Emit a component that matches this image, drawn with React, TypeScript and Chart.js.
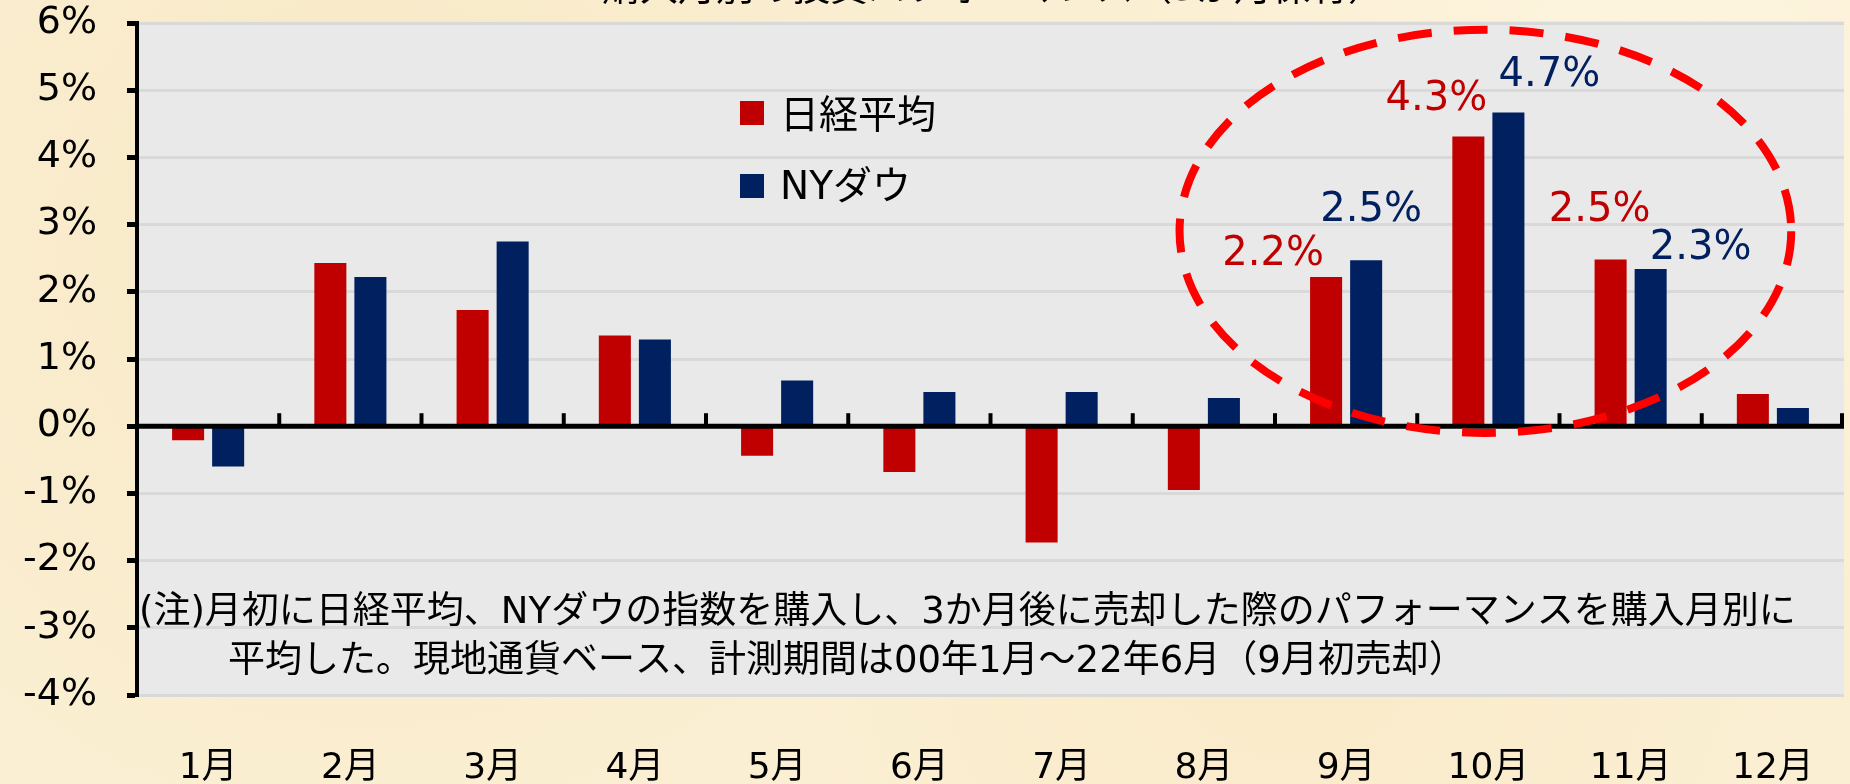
import React, { useEffect, useRef } from "react";
import { Chart, registerables } from "chart.js";

Chart.register(...registerables);

// ---- data ----
const months = ["1月", "2月", "3月", "4月", "5月", "6月", "7月", "8月", "9月", "10月", "11月", "12月"];
const seriesNames = ["日経平均", "NYダウ"];
const nikkei = [-0.21, 2.43, 1.73, 1.35, -0.44, -0.68, -1.73, -0.95, 2.22, 4.31, 2.48, 0.48];
const nydow = [-0.6, 2.22, 2.75, 1.29, 0.68, 0.51, 0.51, 0.42, 2.47, 4.67, 2.34, 0.27];
const yMin = -4;
const yMax = 6;
const yStep = 1;
const seriesColors = ["#C00000", "#002060"];
// highlighted value labels: [month index, series index]
const calloutPoints: [number, number][] = [
  [8, 0], [8, 1], [9, 0], [9, 1], [10, 0], [10, 1],
];
const titleText = "購入月別の投資パフォーマンス（3か月保有）";
const noteLines = [
  "(注)月初に日経平均、NYダウの指数を購入し、3か月後に売却した際のパフォーマンスを購入月別に",
  "平均した。現地通貨ベース、計測期間は00年1月～22年6月（9月初売却）",
];

const FONT = '"DejaVu Sans", "Noto Sans CJK JP", sans-serif';

// label offsets (pixels) relative to category centre / bar top
const calloutOffsets: [number, number][] = [
  [-73, -22], [25, -50], [-52, -37], [61, -37], [-31, -49], [70, -20],
];

const overlayPlugin = {
  id: "overlay",
  beforeDraw(chart: any) {
    const { ctx, chartArea: a } = chart;
    ctx.save();
    ctx.fillStyle = "#e9e9e9";
    ctx.fillRect(a.left, a.top - 2, a.right - a.left, a.bottom - a.top + 4);
    ctx.restore();
  },
  afterDatasetsDraw(chart: any) {
    const { ctx, chartArea: a } = chart;
    const xs = chart.scales.x;
    const ys = chart.scales.y;
    const y0 = ys.getPixelForValue(0);
    const catW = (a.right - a.left) / months.length;
    const unit = ys.getPixelForValue(0) - ys.getPixelForValue(1);
    ctx.save();
    // zero line
    ctx.strokeStyle = "#000";
    ctx.lineWidth = 5;
    ctx.beginPath();
    ctx.moveTo(a.left, y0);
    ctx.lineTo(a.right, y0);
    ctx.stroke();
    // category tick marks
    ctx.lineWidth = 4;
    for (let i = 1; i <= months.length; i++) {
      const x = i < months.length
        ? (xs.getPixelForValue(i - 1) + xs.getPixelForValue(i)) / 2
        : a.right - 2;
      ctx.beginPath();
      ctx.moveTo(x, y0);
      ctx.lineTo(x, y0 - 13);
      ctx.stroke();
    }
    // dashed ellipse
    ctx.strokeStyle = "#FF0000";
    ctx.lineWidth = 8;
    ctx.setLineDash([34, 22]);
    ctx.beginPath();
    ctx.ellipse(xs.getPixelForValue(9) - 3, ys.getPixelForValue(2.9), catW * 2.15, unit * 3, 0, 0, Math.PI * 2);
    ctx.stroke();
    ctx.setLineDash([]);
    // value labels
    ctx.font = `40px ${FONT}`;
    ctx.textAlign = "center";
    ctx.textBaseline = "middle";
    calloutPoints.forEach(([m, s], k) => {
      const v = chart.data.datasets[s].data[m];
      const [dx, dy] = calloutOffsets[k];
      ctx.fillStyle = seriesColors[s];
      ctx.fillText(v.toFixed(1) + "%", xs.getPixelForValue(m) + dx, ys.getPixelForValue(v) + dy);
    });
    // legend
    ctx.textAlign = "left";
    ctx.font = `39px ${FONT}`;
    chart.data.datasets.forEach((ds: any, i: number) => {
      const cy = 113 + i * 73;
      ctx.fillStyle = ds.backgroundColor;
      ctx.fillRect(740, cy - 12, 24, 24);
      ctx.fillStyle = "#000";
      ctx.fillText(ds.label, 780, cy + (i === 0 ? 5 : 3));
    });
    // note
    ctx.font = `37px ${FONT}`;
    ctx.fillStyle = "#000";
    ctx.fillText(noteLines[0], a.left + 2, 613);
    ctx.fillText(noteLines[1], a.left + 91, 662);
    // title (cut off at top)
    ctx.textAlign = "center";
    ctx.textBaseline = "alphabetic";
    ctx.font = `38px ${FONT}`;
    ctx.fillText(titleText, 994, 0);
    ctx.restore();
  },
};

export default function App() {
  const ref = useRef<HTMLCanvasElement>(null);
  useEffect(() => {
    document.body.style.margin = "0";
    const chart = new Chart(ref.current as HTMLCanvasElement, {
      type: "bar",
      data: {
        labels: months,
        datasets: [
          { label: seriesNames[0], data: nikkei, backgroundColor: seriesColors[0], categoryPercentage: 0.563, barPercentage: 0.8 },
          { label: seriesNames[1], data: nydow, backgroundColor: seriesColors[1], categoryPercentage: 0.563, barPercentage: 0.8 },
        ],
      },
      options: {
        animation: false,
        responsive: false,
        devicePixelRatio: 1,
        layout: { padding: { top: 23, right: 6, left: 0, bottom: 0 } },
        plugins: { legend: { display: false }, tooltip: { enabled: false }, title: { display: false } },
        scales: {
          x: {
            grid: { display: false, drawTicks: false },
            border: { display: false },
            ticks: { color: "#000", font: { size: 36, family: FONT }, padding: 52, maxRotation: 0 },
            afterFit: (s: any) => {
              s.height = 89;
              s.paddingLeft = 0;
              s.paddingRight = 0;
            },
          },
          y: {
            min: yMin,
            max: yMax,
            ticks: {
              stepSize: yStep,
              color: "#000",
              font: { size: 38, family: FONT },
              padding: 30,
              callback: (v: any) => `${v}%`,
            },
            grid: {
              color: "#d9d9d9",
              lineWidth: 3,
              tickColor: "#000",
              tickWidth: 5,
              tickLength: 10,
            },
            border: { display: true, color: "#000", width: 4 },
            afterFit: (s: any) => {
              s.width = 137;
              s.paddingTop = 0;
              s.paddingBottom = 0;
            },
          },
        },
      },
      plugins: [overlayPlugin],
    });
    return () => chart.destroy();
  }, []);
  return (
    <div
      style={{
        width: 1850,
        height: 784,
        backgroundColor: "#FBEFD3",
        backgroundImage:
          "radial-gradient(circle at 20% 30%, rgba(240,220,170,0.35), transparent 40%), radial-gradient(circle at 70% 80%, rgba(245,225,180,0.35), transparent 35%), radial-gradient(circle at 90% 10%, rgba(255,250,235,0.5), transparent 30%)",
      }}
    >
      <canvas ref={ref} width={1850} height={784} style={{ display: "block" }} />
    </div>
  );
}
